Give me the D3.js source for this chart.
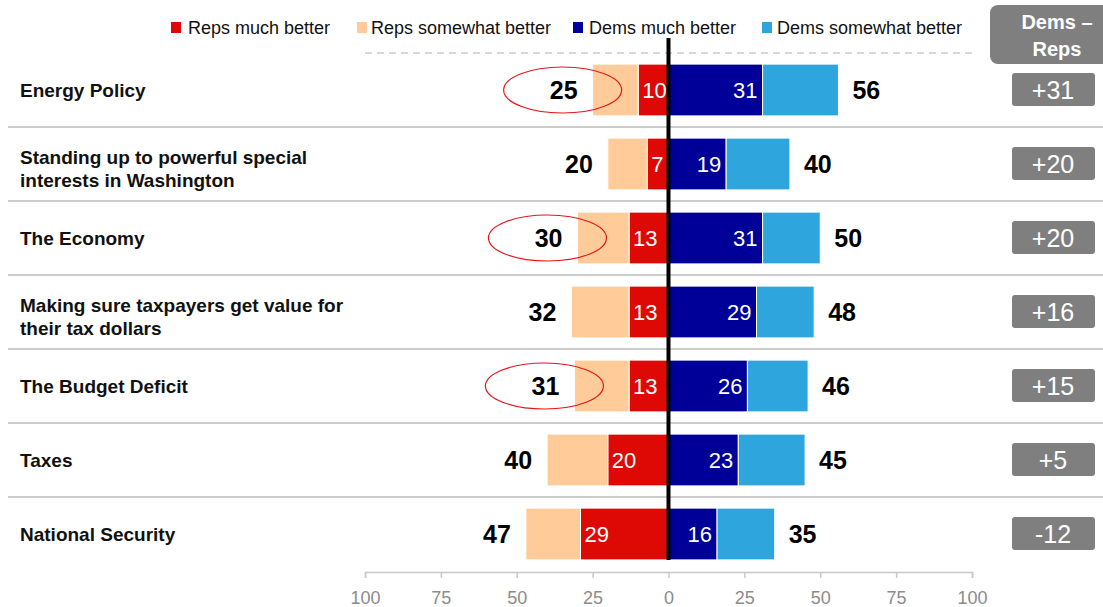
<!DOCTYPE html>
<html><head><meta charset="utf-8">
<script src="https://cdn.jsdelivr.net/npm/d3@7"></script>
<style>
html,body{margin:0;padding:0;background:#fff;}
text{font-family:"Liberation Sans",Arial,sans-serif;}
</style></head>
<body>
<svg id="chart" width="1103" height="607"></svg>
<script>
const categories = ["Energy Policy","Standing up to powerful special|interests in Washington","The Economy","Making sure taxpayers get value for|their tax dollars","The Budget Deficit","Taxes","National Security"];
const repsMuch = [10, 7, 13, 13, 13, 20, 29];
const repsTotal = [25, 20, 30, 32, 31, 40, 47];
const demsMuch = [31, 19, 31, 29, 26, 23, 16];
const demsTotal = [56, 40, 50, 48, 46, 45, 35];
const diffLabels = ["+31","+20","+20","+16","+15","+5","-12"];
const circled = ["Energy Policy","The Economy","The Budget Deficit"];
const tickValues = [-100,-75,-50,-25,0,25,50,75,100];
const seriesNames = ["Reps much better","Reps somewhat better","Dems much better","Dems somewhat better"];
const seriesColors = ["#DE0804","#FFCC99","#000099","#2EA6DD"];

const svg = d3.select("#chart");
const x = d3.scaleLinear().domain([-100,100]).range([365,972]);
const y = d3.scaleBand().domain(categories).range([53,571]).paddingInner(0.3).paddingOuter(0.15);
const color = d3.scaleOrdinal().domain(seriesNames).range(seriesColors);

// separators
const seps = categories.slice(1).map((c)=> y(c) - (y.step()-y.bandwidth())/2);
svg.append("g").selectAll("line").data(seps).join("line")
  .attr("x1",8).attr("x2",1103).attr("y1",d=>d).attr("y2",d=>d)
  .attr("stroke","#cccccc").attr("stroke-width",2);
// top dashed
svg.append("line").attr("x1",x(-100)).attr("x2",x(100)).attr("y1",53).attr("y2",53)
  .attr("stroke","#cccccc").attr("stroke-width",1.5).attr("stroke-dasharray","7,5");

// legend
const leg = svg.append("g");
const legX = [171, 357, 573, 762];
const legTextX = [188, 371, 589, 777];
seriesNames.forEach((s,i)=>{
  leg.append("rect").attr("x",legX[i]).attr("y",22).attr("width",10).attr("height",11).attr("fill",color(s));
  leg.append("text").attr("x",legTextX[i]).attr("y",34).attr("font-size",18).attr("fill","#111").text(s);
});

// header box
svg.append("rect").attr("x",990).attr("y",5).attr("width",120).attr("height",59).attr("rx",8).attr("fill","#7f7f7f");
svg.append("text").attr("x",1057).attr("y",29).attr("text-anchor","middle").attr("font-size",20).attr("font-weight","bold").attr("fill","#fff").text("Dems –");
svg.append("text").attr("x",1057).attr("y",56).attr("text-anchor","middle").attr("font-size",20).attr("font-weight","bold").attr("fill","#fff").text("Reps");

const rows = categories.map((c,i)=>({c, rm:repsMuch[i], rt:repsTotal[i], dm:demsMuch[i], dt:demsTotal[i], diff:diffLabels[i]}));

// bars
const g = svg.append("g");
const segs = [];
rows.forEach(r=>{
  segs.push({c:r.c, s:seriesNames[0], x0:-r.rm, x1:0});
  segs.push({c:r.c, s:seriesNames[1], x0:-r.rt, x1:-r.rm});
  segs.push({c:r.c, s:seriesNames[2], x0:0, x1:r.dm});
  segs.push({c:r.c, s:seriesNames[3], x0:r.dm, x1:r.dt});
});
g.selectAll("rect").data(segs).join("rect")
  .attr("x",d=>x(d.x0)).attr("width",d=>x(d.x1)-x(d.x0))
  .attr("y",d=>y(d.c)).attr("height",y.bandwidth())
  .attr("fill",d=>color(d.s)).attr("stroke","#fff").attr("stroke-width",1);

// inner labels
const cy = c => y(c)+y.bandwidth()/2;
g.selectAll("text.rm").data(rows).join("text").attr("class","rm")
  .attr("x",d=>x(-d.rm)+4).attr("y",d=>cy(d.c)+8).attr("font-size",22).attr("fill","#fff").text(d=>d.rm);
g.selectAll("text.dm").data(rows).join("text").attr("class","dm")
  .attr("x",d=>x(d.dm)-5).attr("y",d=>cy(d.c)+8).attr("text-anchor","end").attr("font-size",22).attr("fill","#fff").text(d=>d.dm);
// totals
g.selectAll("text.rt").data(rows).join("text").attr("class","rt")
  .attr("x",d=>x(-d.rt)-15).attr("y",d=>cy(d.c)+9).attr("text-anchor","end").attr("font-size",25).attr("font-weight","bold").attr("fill","#000").text(d=>d.rt);
g.selectAll("text.dt").data(rows).join("text").attr("class","dt")
  .attr("x",d=>x(d.dt)+14).attr("y",d=>cy(d.c)+9).attr("font-size",25).attr("font-weight","bold").attr("fill","#000").text(d=>d.dt);

// ellipses
g.selectAll("ellipse").data(rows.filter(r=>circled.includes(r.c))).join("ellipse")
  .attr("cx",d=>x(-d.rt)-30).attr("cy",d=>cy(d.c)).attr("rx",59).attr("ry",23)
  .attr("fill","none").attr("stroke","#E8141B").attr("stroke-width",1.2);

// category labels
rows.forEach(r=>{
  const lines = r.c.split("|");
  const t = svg.append("text").attr("font-size",19).attr("font-weight","bold").attr("fill","#111");
  lines.forEach((l,k)=>{
    t.append("tspan").attr("x",20).attr("y",cy(r.c)+7+(lines.length-1)*4+(k-(lines.length-1)/2)*23).text(l);
  });
});

// diff boxes
const db = svg.append("g");
db.selectAll("rect").data(rows).join("rect")
  .attr("x",1012).attr("width",83).attr("y",d=>cy(d.c)-17).attr("height",33).attr("rx",3).attr("fill","#7f7f7f");
db.selectAll("text").data(rows).join("text")
  .attr("x",1053).attr("y",d=>cy(d.c)+9).attr("text-anchor","middle").attr("font-size",25).attr("fill","#fff").text(d=>d.diff);

// center line
svg.append("line").attr("x1",x(0)).attr("x2",x(0)).attr("y1",38).attr("y2",y(categories[categories.length-1])+y.bandwidth())
  .attr("stroke","#000").attr("stroke-width",4);

// axis
const axis = d3.axisBottom(x).tickValues(tickValues).tickFormat(d=>Math.abs(d)).tickSize(6).tickPadding(13);
const ag = svg.append("g").attr("transform","translate(0,572)").call(axis);
ag.select(".domain").attr("stroke","#c8c8c8").attr("stroke-width",1.5);
ag.selectAll(".tick line").attr("stroke","#c8c8c8").attr("stroke-width",1.5);
ag.selectAll(".tick text").attr("fill","#8c8c8c").attr("font-size",18).attr("font-family","Liberation Sans, Arial, sans-serif");
</script>
</body></html>
